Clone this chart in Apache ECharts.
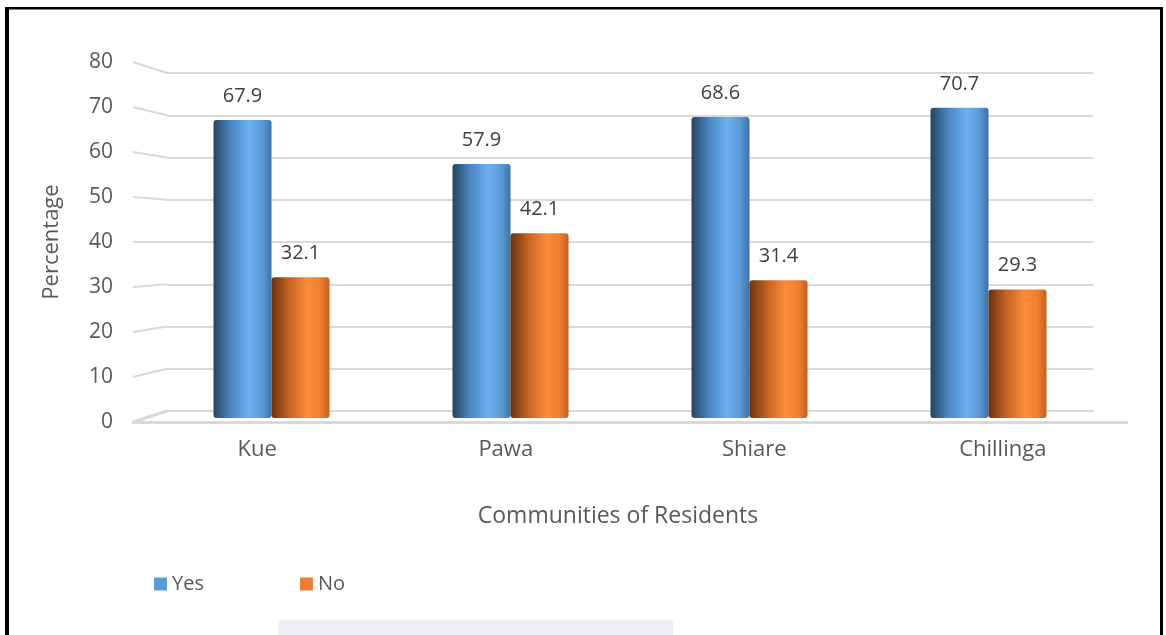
<!DOCTYPE html>
<html>
<head>
<meta charset="utf-8">
<script src="https://cdn.jsdelivr.net/npm/echarts@6/dist/echarts.min.js"></script>
<style>
html,body{margin:0;padding:0;background:#fff;}
#c{width:1166px;height:635px;}
</style>
</head>
<body>
<div id="c"></div>
<script>
var categories = ['Kue', 'Pawa', 'Shiare', 'Chillinga'];
var yesValues = [67.9, 57.9, 68.6, 70.7];
var noValues = [32.1, 42.1, 31.4, 29.3];
var yTicks = [0, 10, 20, 30, 40, 50, 60, 70, 80];
var seriesNames = ['Yes', 'No'];

var FONT = '"Open Sans", "Liberation Sans", sans-serif';
var TXT = '#595959';
var GRIDC = '#d9d9d9';

// layout: front plane (labels), back wall (grid lines), mid plane (bars)
var front = {left: 133, right: 1166 - 1127, top: 62, bottom: 635 - 422};
var back = {left: 167, right: 1166 - 1093, top: 73, bottom: 635 - 411};
var mid = {left: 152, right: 1166 - 1108, top: 67, bottom: 635 - 418};

var blueGrad = new echarts.graphic.LinearGradient(0, 0, 1, 0, [
  {offset: 0, color: '#27445f'},
  {offset: 0.3, color: '#4a86c1'},
  {offset: 0.62, color: '#6cb0ee'},
  {offset: 0.85, color: '#5a98d4'},
  {offset: 1, color: '#3d71a4'}
]);
var orangeGrad = new echarts.graphic.LinearGradient(0, 0, 1, 0, [
  {offset: 0, color: '#6a3311'},
  {offset: 0.3, color: '#c4621f'},
  {offset: 0.62, color: '#fa8d3b'},
  {offset: 0.85, color: '#ee7f30'},
  {offset: 1, color: '#c2601e'}
]);

var labelStyle = {show: true, position: 'top', distance: 14, fontFamily: FONT, fontSize: 20, color: '#404040'};

var chart = echarts.init(document.getElementById('c'), null, {renderer: 'canvas'});
var option = {
  backgroundColor: '#ffffff',
  animation: false,
  grid: [
    {left: front.left, right: front.right, top: front.top, bottom: front.bottom, containLabel: false},
    {left: back.left, right: back.right, top: back.top, bottom: back.bottom, containLabel: false},
    {left: mid.left, right: mid.right, top: mid.top, bottom: mid.bottom, containLabel: false}
  ],
  legend: {
    left: 149, top: 569,
    itemWidth: 13, itemHeight: 13, itemGap: 96,
    icon: 'rect',
    textStyle: {fontFamily: FONT, fontSize: 20, color: TXT},
    data: [
      {name: seriesNames[0], itemStyle: {color: '#5b9bd5'}},
      {name: seriesNames[1], itemStyle: {color: '#ed7d31'}}
    ]
  },
  xAxis: [
    {
      type: 'category', gridIndex: 0, data: categories,
      axisLine: {show: true, lineStyle: {color: GRIDC, width: 3}},
      axisTick: {show: false},
      axisLabel: {margin: 17, fontFamily: FONT, fontSize: 22, color: TXT},
      name: 'Communities of Residents', nameLocation: 'middle', nameGap: 83,
      nameTextStyle: {fontFamily: FONT, fontSize: 23, color: TXT, padding: [0, 24, 0, 0]}
    },
    {
      type: 'category', gridIndex: 1, data: categories,
      axisLine: {show: true, lineStyle: {color: GRIDC, width: 2}},
      axisTick: {show: false}, axisLabel: {show: false}
    },
    {
      type: 'category', gridIndex: 2, data: categories,
      axisLine: {show: false}, axisTick: {show: false}, axisLabel: {show: false}
    }
  ],
  yAxis: [
    {
      type: 'value', gridIndex: 0, min: 0, max: 80, interval: 10,
      axisLine: {show: false}, axisTick: {show: false}, splitLine: {show: false},
      axisLabel: {margin: 20, fontFamily: FONT, fontSize: 21, color: TXT},
      name: 'Percentage', nameLocation: 'middle', nameGap: 70, nameRotate: 90,
      nameTextStyle: {fontFamily: FONT, fontSize: 22, color: TXT}
    },
    {
      type: 'value', gridIndex: 1, min: 0, max: 80, interval: 10,
      axisLine: {show: false}, axisTick: {show: false}, axisLabel: {show: false},
      splitLine: {show: true, lineStyle: {color: GRIDC, width: 2}}
    },
    {
      type: 'value', gridIndex: 2, min: 0, max: 80, interval: 10,
      axisLine: {show: false}, axisTick: {show: false}, axisLabel: {show: false},
      splitLine: {show: false}
    }
  ],
  series: [
    {
      name: seriesNames[0], type: 'bar', xAxisIndex: 2, yAxisIndex: 2,
      data: yesValues, barWidth: 58, barGap: '0%',
      itemStyle: {color: blueGrad, borderRadius: 3},
      label: labelStyle
    },
    {
      name: seriesNames[1], type: 'bar', xAxisIndex: 2, yAxisIndex: 2,
      data: noValues, barWidth: 58, barGap: '0%',
      itemStyle: {color: orangeGrad, borderRadius: 3},
      label: labelStyle
    }
  ]
};
chart.setOption(option);

// perspective side-wall lines joining front plane ticks to back wall ticks
var side = [];
yTicks.forEach(function (v) {
  var yf = chart.convertToPixel({yAxisIndex: 0}, v);
  var yb = chart.convertToPixel({yAxisIndex: 1}, v);
  side.push({
    type: 'line', silent: true, z: 0,
    shape: {x1: front.left, y1: yf, x2: back.left, y2: yb},
    style: {stroke: GRIDC, lineWidth: v === 0 ? 3 : 2}
  });
});
// frame and faint artifact from the source image
side.push({type: 'rect', silent: true, shape: {x: 5, y: 7, width: 4, height: 628}, style: {fill: '#000'}});
side.push({type: 'rect', silent: true, shape: {x: 5, y: 7, width: 1158, height: 2.5}, style: {fill: '#000'}});
side.push({type: 'rect', silent: true, shape: {x: 1160, y: 7, width: 3, height: 628}, style: {fill: '#000'}});
side.push({type: 'rect', silent: true, z: -1, shape: {x: 278, y: 620, width: 395, height: 15}, style: {fill: '#efeff4'}});
chart.setOption({graphic: side});
</script>
</body>
</html>
